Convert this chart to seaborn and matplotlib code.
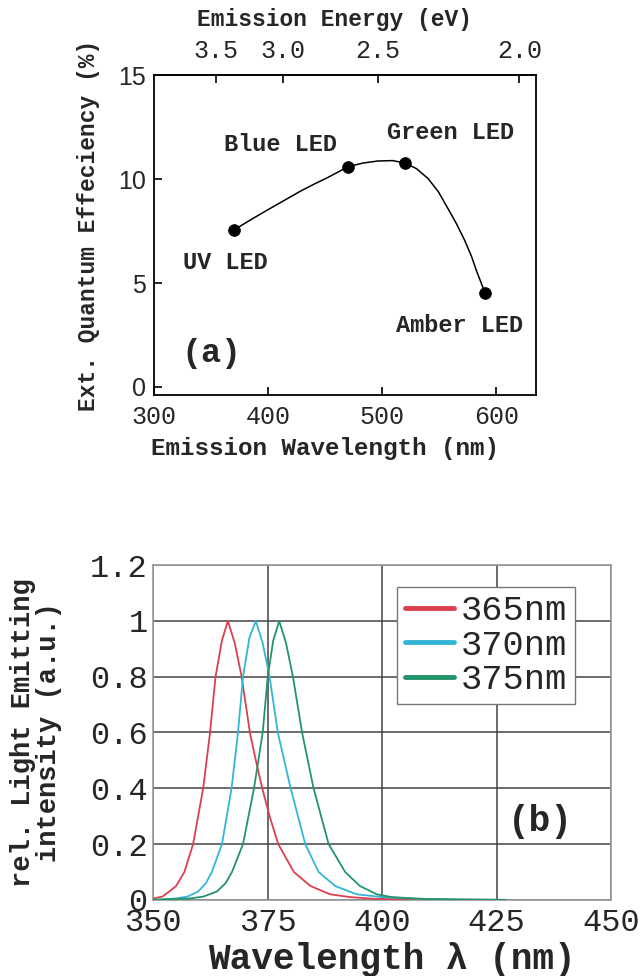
import numpy as np
import pandas as pd
import matplotlib
matplotlib.use("Agg")
import matplotlib.pyplot as plt
import seaborn as sns

# ---------------- data: panel (a) ----------------
led_names = ["UV LED", "Blue LED", "Green LED", "Amber LED"]
led_wavelength = [370, 470, 520, 590]
led_eqe = [7.55, 10.6, 10.77, 4.5]
fit_wavelength = [370, 385, 399, 414, 428, 440, 452, 462, 470, 483, 496, 509, 520,
                  530, 540, 549, 557, 565, 572, 578, 583, 587, 590]
fit_eqe = [7.55, 8.05, 8.5, 8.97, 9.41, 9.75, 10.07, 10.36, 10.6, 10.77, 10.87, 10.89, 10.77,
           10.5, 10.03, 9.4, 8.63, 7.85, 7.07, 6.3, 5.51, 4.95, 4.5]
x_ticks_a = [300, 400, 500, 600]
y_ticks_a = [0, 5, 10, 15]
energy_ticks = [3.5, 3.0, 2.5, 2.0]
energy_labels = ["3.5", "3.0", "2.5", "2.0"]

# ---------------- data: panel (b) ----------------
series_names = ["365nm", "370nm", "375nm"]
wl_365 = [350, 352, 353.5, 355, 356.8, 358.7, 360.9, 362.4, 363.6, 365, 366.3, 367.8,
          369.3, 371.1, 372.4, 373.8, 375.4, 377.3, 380.7, 384.3, 388.6, 393, 398, 405, 415, 427]
int_365 = [0.005, 0.012, 0.03, 0.05, 0.1, 0.2, 0.4, 0.6, 0.8, 0.93, 1.0, 0.92,
           0.8, 0.6, 0.5, 0.4, 0.3, 0.2, 0.1, 0.05, 0.02, 0.01, 0.004, 0.002, 0.001, 0.0]
wl_370 = [350, 355, 357.5, 359.8, 361.5, 362.8, 365, 367.1, 368.5, 369.6, 371, 372.4,
          373.9, 375.4, 377.2, 380, 383.2, 386.1, 389.7, 394.4, 400, 408, 418, 427]
int_370 = [0.0, 0.005, 0.012, 0.03, 0.06, 0.1, 0.2, 0.4, 0.6, 0.8, 0.94, 1.0,
           0.92, 0.8, 0.6, 0.4, 0.2, 0.1, 0.05, 0.02, 0.01, 0.004, 0.001, 0.0]
wl_375 = [350, 358, 361, 363.9, 365.8, 367.2, 369.6, 372, 373.9, 375, 376.2, 377.5,
          379, 380.5, 382.5, 385, 388.3, 391.9, 395.1, 398.8, 402, 408, 416, 427]
int_375 = [0.0, 0.005, 0.012, 0.03, 0.06, 0.1, 0.2, 0.4, 0.6, 0.8, 0.93, 1.0,
           0.92, 0.8, 0.6, 0.4, 0.2, 0.1, 0.05, 0.02, 0.01, 0.004, 0.001, 0.0]
x_ticks_b = [350, 375, 400, 425, 450]
y_ticks_b = [0, 0.2, 0.4, 0.6, 0.8, 1.0, 1.2]
y_labels_b = ["0", "0.2", "0.4", "0.6", "0.8", "1", "1.2"]

# ---------------- style ----------------
sns.set_theme(style="white")
MONO = ["Liberation Mono", "DejaVu Sans Mono"]
plt.rcParams["font.family"] = MONO

fig = plt.figure(figsize=(6.44, 9.76), dpi=100)

# ================= panel (a) =================
ax1 = fig.add_axes([0.239, 0.595, 0.594, 0.328])
fit_df = pd.DataFrame({"wl": fit_wavelength, "eqe": fit_eqe})
led_df = pd.DataFrame({"wl": led_wavelength, "eqe": led_eqe, "name": led_names})
sns.lineplot(data=fit_df, x="wl", y="eqe", ax=ax1, color="black", lw=1.1,
             sort=False, estimator=None)
sns.scatterplot(data=led_df, x="wl", y="eqe", ax=ax1, color="black", s=70,
                edgecolor="black", zorder=5)
ax1.set_xlim(300, 635)
ax1.set_ylim(-0.4, 15)
ax1.set_xticks(x_ticks_a)
ax1.set_yticks(y_ticks_a)
ax1.set_xticklabels([str(v) for v in x_ticks_a], fontsize=18, family=MONO)
ax1.set_yticklabels([str(v) for v in y_ticks_a], fontsize=18,
                    family=["Liberation Sans", "DejaVu Sans"])
ax1.tick_params(axis="both", direction="in", length=6, width=1.2, color="black",
                bottom=True, left=True, top=False, right=False, pad=6)
ax1.tick_params(axis="x", pad=7)
for sp in ax1.spines.values():
    sp.set_color("black")
    sp.set_linewidth(1.3)
ax1.set_xlabel("Emission Wavelength (nm)", fontsize=17.5, fontweight="bold")
ax1.xaxis.set_label_coords(0.448, -0.13)
ax1.set_ylabel("Ext. Quantum Effeciency (%)", fontsize=16.5, fontweight="bold")
ax1.yaxis.set_label_coords(-0.14, 0.53)

ann = {"UV LED": (363, 6.0), "Blue LED": (411, 11.67),
       "Green LED": (560, 12.22), "Amber LED": (568, 2.95)}
for nm in led_names:
    x, y = ann[nm]
    ax1.text(x, y, nm, ha="center", va="center", fontsize=17, fontweight="bold")
ax1.text(350, 1.6, "(a)", ha="center", va="center", fontsize=24, fontweight="bold")

top = ax1.secondary_xaxis("top", functions=(lambda w: 1240.0 / w, lambda e: 1240.0 / e))
top.set_xticks(energy_ticks)
top.set_xticklabels(energy_labels, fontsize=18, family=MONO)
top.tick_params(direction="in", length=6, width=1.2, color="black", pad=9)
top.set_xlabel("Emission Energy (eV)", fontsize=16.5, fontweight="bold")
top.xaxis.set_label_coords(0.471, 1.155, transform=ax1.transAxes)

# ================= panel (b) =================
ax2 = fig.add_axes([0.238, 0.078, 0.711, 0.343])
spec_df = pd.concat([
    pd.DataFrame({"wl": wl_365, "I": int_365, "series": series_names[0]}),
    pd.DataFrame({"wl": wl_370, "I": int_370, "series": series_names[1]}),
    pd.DataFrame({"wl": wl_375, "I": int_375, "series": series_names[2]}),
], ignore_index=True)
palette = {"365nm": "#dc3f4d", "370nm": "#33b6d6", "375nm": "#23946a"}
sns.lineplot(data=spec_df, x="wl", y="I", hue="series", palette=palette, ax=ax2,
             lw=1.3, sort=False, estimator=None, zorder=3)
ax2.set_xlim(350, 450)
ax2.set_ylim(0, 1.2)
ax2.set_xticks(x_ticks_b)
ax2.set_yticks(y_ticks_b)
ax2.set_xticklabels([str(v) for v in x_ticks_b], fontsize=23)
ax2.set_yticklabels(y_labels_b, fontsize=23)
ax2.grid(True, color="#444444", lw=1.1)
ax2.tick_params(axis="y", length=0, pad=4)
ax2.tick_params(axis="x", length=0, pad=6)
for sp in ax2.spines.values():
    sp.set_color("#999999")
    sp.set_linewidth(1.2)
ax2.set_xlabel("Wavelength λ (nm)", fontsize=26, fontweight="bold")
ax2.xaxis.set_label_coords(0.52, -0.125)
ax2.set_ylabel("rel. Light Emitting\nintensity (a.u.)", fontsize=19.5,
               fontweight="bold", linespacing=1.0)
ax2.yaxis.set_label_coords(-0.2, 0.5)
ax2.text(434.5, 0.28, "(b)", ha="center", va="center", fontsize=26, fontweight="bold")

handles, labels = ax2.get_legend_handles_labels()
for h in handles:
    h.set_linewidth(3.5)
leg = ax2.legend(handles, labels, loc="upper right", bbox_to_anchor=(0.92, 0.935),
                 fontsize=25.5, frameon=True, fancybox=False, handlelength=1.4,
                 handletextpad=0.2, borderpad=0.2, labelspacing=0.05,
                 borderaxespad=0.0)
leg.get_frame().set_edgecolor("#777777")
leg.get_frame().set_linewidth(1.0)
leg.get_frame().set_alpha(1)

fig.savefig("out.png", dpi=100)
